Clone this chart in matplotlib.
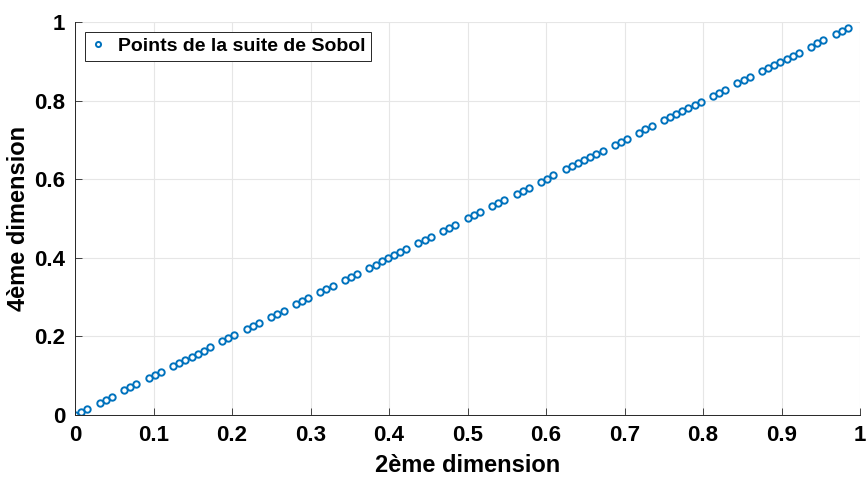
import numpy as np
import matplotlib
matplotlib.use("Agg")
import matplotlib.pyplot as plt

# points (2nd and 4th Sobol dimensions)
dim2 = [0, 0.0078, 0.0156, 0.0313, 0.0391, 0.0469, 0.0625, 0.0703, 0.0781,
        0.0938, 0.1016, 0.1094, 0.125, 0.1328, 0.1406, 0.1484, 0.1563, 0.1641,
        0.1719, 0.1875, 0.1953, 0.2031, 0.2188, 0.2266, 0.2344, 0.25, 0.2578,
        0.2656, 0.2813, 0.2891, 0.2969, 0.3125, 0.3203, 0.3281, 0.3438, 0.3516,
        0.3594, 0.375, 0.3828, 0.3906, 0.3984, 0.4063, 0.4141, 0.4219, 0.4375,
        0.4453, 0.4531, 0.4688, 0.4766, 0.4844, 0.5, 0.5078, 0.5156, 0.5313,
        0.5391, 0.5469, 0.5625, 0.5703, 0.5781, 0.5938, 0.6016, 0.6094, 0.625,
        0.6328, 0.6406, 0.6484, 0.6563, 0.6641, 0.6719, 0.6875, 0.6953, 0.7031,
        0.7188, 0.7266, 0.7344, 0.75, 0.7578, 0.7656, 0.7734, 0.7813, 0.7891,
        0.7969, 0.8125, 0.8203, 0.8281, 0.8438, 0.8516, 0.8594, 0.875, 0.8828,
        0.8906, 0.8984, 0.9063, 0.9141, 0.9219, 0.9375, 0.9453, 0.9531, 0.9688,
        0.9766, 0.9844]
dim4 = [0, 0.0078, 0.0156, 0.0313, 0.0391, 0.0469, 0.0625, 0.0703, 0.0781,
        0.0938, 0.1016, 0.1094, 0.125, 0.1328, 0.1406, 0.1484, 0.1563, 0.1641,
        0.1719, 0.1875, 0.1953, 0.2031, 0.2188, 0.2266, 0.2344, 0.25, 0.2578,
        0.2656, 0.2813, 0.2891, 0.2969, 0.3125, 0.3203, 0.3281, 0.3438, 0.3516,
        0.3594, 0.375, 0.3828, 0.3906, 0.3984, 0.4063, 0.4141, 0.4219, 0.4375,
        0.4453, 0.4531, 0.4688, 0.4766, 0.4844, 0.5, 0.5078, 0.5156, 0.5313,
        0.5391, 0.5469, 0.5625, 0.5703, 0.5781, 0.5938, 0.6016, 0.6094, 0.625,
        0.6328, 0.6406, 0.6484, 0.6563, 0.6641, 0.6719, 0.6875, 0.6953, 0.7031,
        0.7188, 0.7266, 0.7344, 0.75, 0.7578, 0.7656, 0.7734, 0.7813, 0.7891,
        0.7969, 0.8125, 0.8203, 0.8281, 0.8438, 0.8516, 0.8594, 0.875, 0.8828,
        0.8906, 0.8984, 0.9063, 0.9141, 0.9219, 0.9375, 0.9453, 0.9531, 0.9688,
        0.9766, 0.9844]

xticks = [0, 0.1, 0.2, 0.3, 0.4, 0.5, 0.6, 0.7, 0.8, 0.9, 1]
xticklabels = ["0", "0.1", "0.2", "0.3", "0.4", "0.5", "0.6", "0.7", "0.8", "0.9", "1"]
yticks = [0, 0.2, 0.4, 0.6, 0.8, 1]
yticklabels = ["0", "0.2", "0.4", "0.6", "0.8", "1"]

plt.rcParams["font.family"] = ["Liberation Sans", "DejaVu Sans"]

fig = plt.figure(figsize=(8.68, 4.78), dpi=100)
ax = fig.add_axes([0.0864, 0.1318, 0.9045, 0.8222])

ax.plot(dim2, dim4, linestyle="none", marker="o", markersize=4.6,
        markerfacecolor="none", markeredgecolor="#0072BD", markeredgewidth=1.4,
        label="Points de la suite de Sobol")

ax.set_xlim(0, 1)
ax.set_ylim(0, 1)
ax.set_xticks(xticks)
ax.set_xticklabels(xticklabels)
ax.set_yticks(yticks)
ax.set_yticklabels(yticklabels)
ax.tick_params(direction="in", length=5, width=0.6, color="#262626",
               labelsize=16, pad=7)
for lab in ax.get_xticklabels() + ax.get_yticklabels():
    lab.set_fontweight("bold")

ax.grid(True, color="#e6e6e6", linewidth=0.8)
ax.set_axisbelow(True)
ax.spines["top"].set_visible(False)
ax.spines["right"].set_visible(False)
ax.spines["left"].set_color("#262626")
ax.spines["bottom"].set_color("#262626")
ax.spines["left"].set_linewidth(0.7)
ax.spines["bottom"].set_linewidth(0.7)

ax.set_xlabel("2ème dimension", fontsize=17, fontweight="bold", labelpad=6)
ax.set_ylabel("4ème dimension", fontsize=17, fontweight="bold", labelpad=3)

leg = ax.legend(loc="upper left", prop={"weight": "bold", "size": 14},
                fancybox=False, edgecolor="#262626", framealpha=1,
                handlelength=0.8, handletextpad=0.6, borderaxespad=0.5,
                borderpad=0.3, markerscale=0.8)
leg.get_frame().set_linewidth(0.7)

fig.savefig("out.png", dpi=100)
